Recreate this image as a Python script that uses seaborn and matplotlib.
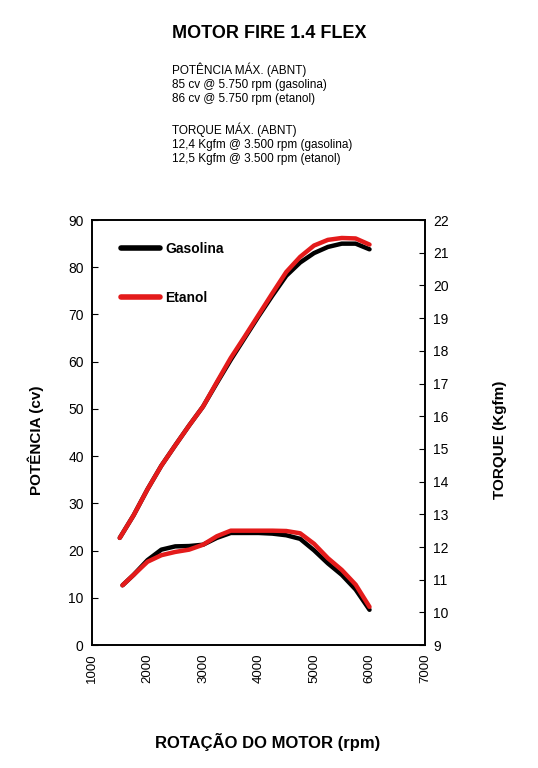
import matplotlib
matplotlib.use("Agg")
import matplotlib.pyplot as plt
import seaborn as sns
import pandas as pd

# Power curve (cv) vs rpm
power_rpm = [1500, 1750, 2000, 2250, 2500, 2750, 3000, 3250, 3500, 3750,
             4000, 4250, 4500, 4750, 5000, 5250, 5500, 5750, 6000]
power_gas = [22.7, 27.5, 33.0, 38.0, 42.3, 46.5, 50.5, 55.5, 60.4, 65.0,
             69.6, 74.0, 78.2, 81.0, 83.0, 84.3, 85.0, 85.0, 83.8]
power_eth = [22.7, 27.5, 33.0, 38.0, 42.3, 46.5, 50.5, 55.7, 60.8, 65.3,
             69.9, 74.5, 79.0, 82.2, 84.6, 85.8, 86.2, 86.1, 84.8]

# Torque curve (Kgfm) vs rpm
torque_rpm = [1550, 1750, 2000, 2250, 2500, 2750, 3000, 3250, 3500, 3750,
              4000, 4250, 4500, 4750, 5000, 5250, 5500, 5750, 6000]
torque_gas = [10.83, 11.15, 11.6, 11.92, 12.02, 12.03, 12.07, 12.28, 12.43, 12.43,
              12.43, 12.41, 12.36, 12.25, 11.9, 11.5, 11.15, 10.7, 10.08]
torque_eth = [10.83, 11.15, 11.55, 11.75, 11.85, 11.92, 12.07, 12.33, 12.5, 12.5,
              12.5, 12.5, 12.49, 12.42, 12.1, 11.66, 11.3, 10.85, 10.17]

x_ticks = [1000, 2000, 3000, 4000, 5000, 6000, 7000]
power_ticks = list(range(0, 91, 10))
torque_ticks = list(range(9, 23))

info_lines = [
    "POTÊNCIA MÁX. (ABNT)",
    "85 cv @ 5.750 rpm (gasolina)",
    "86 cv @ 5.750 rpm (etanol)",
    "",
    "TORQUE MÁX. (ABNT)",
    "12,4 Kgfm @ 3.500 rpm (gasolina)",
    "12,5 Kgfm @ 3.500 rpm (etanol)",
]


def main():
    sns.set_style("ticks")
    plt.rcParams["font.family"] = ["Liberation Sans", "DejaVu Sans"]
    for key in ["text.color", "axes.labelcolor", "xtick.color", "ytick.color"]:
        plt.rcParams[key] = "black"

    power = pd.DataFrame({"rpm": power_rpm, "Gasolina": power_gas, "Etanol": power_eth})
    torque = pd.DataFrame({"rpm": torque_rpm, "Gasolina": torque_gas, "Etanol": torque_eth})

    fig = plt.figure(figsize=(5.38, 7.68), dpi=100)
    ax = fig.add_axes([0.171, 0.160, 0.619, 0.5535])
    ax2 = ax.twinx()

    red = "#e41b1b"
    style = dict(lw=3.2, solid_capstyle="round", solid_joinstyle="round")
    sns.lineplot(data=power, x="rpm", y="Gasolina", ax=ax, color="black", label="Gasolina", **style)
    sns.lineplot(data=power, x="rpm", y="Etanol", ax=ax, color=red, label="Etanol", **style)
    sns.lineplot(data=torque, x="rpm", y="Gasolina", ax=ax2, color="black", legend=False, **style)
    sns.lineplot(data=torque, x="rpm", y="Etanol", ax=ax2, color=red, legend=False, **style)

    ax.set_xlim(1000, 7000)
    ax.set_ylim(0, 90)
    ax2.set_ylim(9, 22)
    ax.set_xticks(x_ticks)
    ax.set_yticks(power_ticks)
    ax2.set_yticks(torque_ticks)
    ax.set_xticklabels([str(t) for t in x_ticks], rotation=90)

    ax.tick_params(axis="x", length=0, labelsize=9.5, pad=6)
    ax.tick_params(axis="y", direction="in", length=4.5, labelsize=10, pad=6)
    ax2.tick_params(axis="y", direction="in", length=4.5, labelsize=10, pad=6)

    for a in (ax, ax2):
        for s in a.spines.values():
            s.set_linewidth(1.2)
            s.set_color("black")

    ax.set_xlabel("")
    ax.set_ylabel("")
    ax2.set_ylabel("")

    leg = ax.legend(loc="upper left", frameon=False, handlelength=2.8, handletextpad=0.4,
                    labelspacing=2.5, bbox_to_anchor=(0.05, 0.978),
                    prop={"weight": "bold", "size": 10})
    for line in leg.get_lines():
        line.set_linewidth(4)

    fig.text(0.5, 0.957, "MOTOR FIRE 1.4 FLEX", ha="center", va="center",
             fontsize=13, fontweight="bold")
    fig.text(0.32, 0.919, "\n".join(info_lines), ha="left", va="top",
             fontsize=8.5, linespacing=1.25)
    fig.text(0.067, 0.427, "POTÊNCIA (cv)", rotation=90, ha="center", va="center",
             fontsize=11, fontweight="bold")
    fig.text(0.93, 0.427, "TORQUE (Kgfm)", rotation=90, ha="center", va="center",
             fontsize=11, fontweight="bold")
    fig.text(0.497, 0.034, "ROTAÇÃO DO MOTOR (rpm)", ha="center", va="center",
             fontsize=12, fontweight="bold")

    fig.savefig("out.png", dpi=100)
    plt.close(fig)


if __name__ == "__main__":
    main()
